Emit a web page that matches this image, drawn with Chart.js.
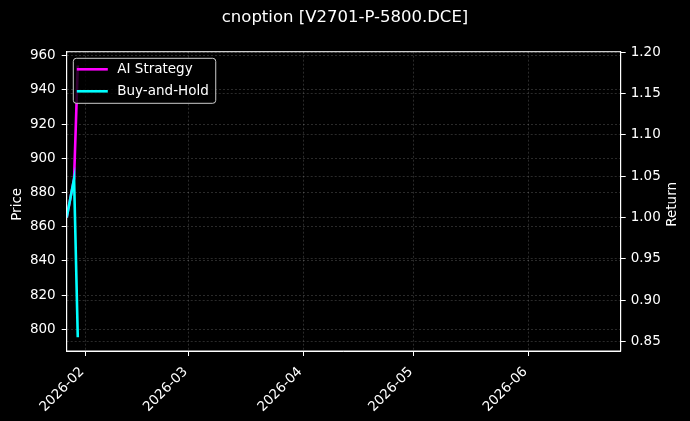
<!DOCTYPE html>
<html>
<head>
<meta charset="utf-8">
<script src="https://cdn.jsdelivr.net/npm/chart.js@4.4.1/dist/chart.umd.min.js"></script>
<style>
  html, body { margin: 0; padding: 0; background: #000; }
  #wrap { width: 690px; height: 421px; }
</style>
</head>
<body>
<div id="wrap"><canvas id="chartRet"></canvas></div>
<script>
// data
const dates = ["2026-01-27", "2026-01-29", "2026-01-30"];
const aiStrategy = [1.0, 1.047, 1.184];
const buyHold = [1.0, 1.047, 0.855];
const monthTicks = ["2026-02-01", "2026-03-01", "2026-04-01", "2026-05-01", "2026-06-01"];
const priceTicks = [800, 820, 840, 860, 880, 900, 920, 940, 960];
const returnTicks = [0.85, 0.90, 0.95, 1.00, 1.05, 1.10, 1.15, 1.20];

const toMs = s => Date.parse(s + "T00:00:00Z");
const FONT = "DejaVu Sans";
const FS = 13.5;

const gridOpts = {
  color: "rgba(255,255,255,0.28)",
  lineWidth: 0.6,
  tickColor: "#ffffff",
  tickLength: 5,
  tickWidth: 1,
  tickBorderDash: []
};
const borderOpts = { color: "#ffffff", width: 1, dash: [2, 2] };

// background, frame, axis titles and legend
const extras = {
  id: "extras",
  beforeDraw(chart) {
    const ctx = chart.ctx;
    ctx.save();
    ctx.fillStyle = "#000";
    ctx.fillRect(0, 0, chart.width, chart.height);
    ctx.restore();
  },
  afterDraw(chart) {
    const ctx = chart.ctx;
    const a = chart.chartArea;
    ctx.save();
    ctx.strokeStyle = "#fff";
    ctx.lineWidth = 1;
    ctx.strokeRect(a.left, a.top, a.right - a.left, a.bottom - a.top);

    ctx.fillStyle = "#fff";
    ctx.font = FS + "px '" + FONT + "'";
    ctx.textAlign = "center";
    ctx.textBaseline = "middle";
    const midY = (a.top + a.bottom) / 2 + 3;
    ctx.save();
    ctx.translate(17, midY);
    ctx.rotate(-Math.PI / 2);
    ctx.fillText("Price", 0, 0);
    ctx.restore();
    ctx.save();
    ctx.translate(672.5, midY);
    ctx.rotate(-Math.PI / 2);
    ctx.fillText("Return", 0, 0);
    ctx.restore();

    // legend
    const ds = chart.data.datasets;
    const lx = a.left + 6.6, ly = a.top + 6.6;
    const textX = lx + 44;
    let maxW = 0;
    ds.forEach(d => { maxW = Math.max(maxW, ctx.measureText(d.label).width); });
    const w = textX - lx + maxW + 7, h = 45;
    ctx.beginPath();
    ctx.roundRect(lx, ly, w, h, 3);
    ctx.fillStyle = "rgba(0,0,0,0.8)";
    ctx.fill();
    ctx.strokeStyle = "#cccccc";
    ctx.lineWidth = 1;
    ctx.stroke();
    ds.forEach((d, i) => {
      const y = ly + 11 + i * 22;
      ctx.beginPath();
      ctx.moveTo(lx + 3.5, y);
      ctx.lineTo(lx + 34.5, y);
      ctx.strokeStyle = d.borderColor;
      ctx.lineWidth = 2.6;
      ctx.stroke();
      ctx.fillStyle = "#fff";
      ctx.textAlign = "left";
      ctx.fillText(d.label, textX, y);
    });
    ctx.restore();
  }
};

const pintar = () => {
  new Chart(document.getElementById("chartRet"), {
    type: "line",
    data: {
      datasets: [
        {
          label: "AI Strategy",
          data: dates.map((d, i) => ({ x: toMs(d), y: aiStrategy[i] })),
          borderColor: "#ff00ff",
          borderWidth: 2.6,
          pointRadius: 0,
          yAxisID: "y1",
          order: 1
        },
        {
          label: "Buy-and-Hold",
          data: dates.map((d, i) => ({ x: toMs(d), y: buyHold[i] })),
          borderColor: "#00ffff",
          borderWidth: 2.6,
          pointRadius: 0,
          yAxisID: "y1",
          order: 0
        }
      ]
    },
    options: {
      responsive: true,
      maintainAspectRatio: false,
      animation: false,
      layout: { padding: 0 },
      plugins: {
        legend: { display: false },
        tooltip: { enabled: false },
        title: {
          display: true,
          text: "cnoption [V2701-P-5800.DCE]",
          color: "#fff",
          font: { family: FONT, size: 16.5, weight: "normal" },
          padding: { top: 8, bottom: 23.9 }
        }
      },
      scales: {
        x: {
          type: "linear",
          min: toMs("2026-01-27"),
          max: toMs("2026-06-26"),
          afterBuildTicks: s => { s.ticks = monthTicks.map(d => ({ value: toMs(d) })); },
          afterFit: s => { s.height = 70; },
          ticks: {
            color: "#fff",
            font: { family: FONT, size: FS },
            autoSkip: false,
            minRotation: 45,
            maxRotation: 45,
            padding: 8,
            labelOffset: -3,
            callback: v => new Date(v).toISOString().slice(0, 7)
          },
          grid: gridOpts,
          border: borderOpts
        },
        y: {
          position: "left",
          min: 787.3,
          max: 962.3,
          afterBuildTicks: s => { s.ticks = priceTicks.map(v => ({ value: v })); },
          afterFit: s => { s.width = 66.7; },
          ticks: {
            color: "#fff",
            font: { family: FONT, size: FS },
            padding: 6
          },
          grid: gridOpts,
          border: borderOpts
        },
        y1: {
          position: "right",
          min: 0.8384,
          max: 1.2007,
          afterBuildTicks: s => { s.ticks = returnTicks.map(v => ({ value: v })); },
          afterFit: s => { s.width = 69.3; },
          ticks: {
            color: "#fff",
            font: { family: FONT, size: FS },
            padding: 5,
            callback: v => v.toFixed(2)
          },
          grid: gridOpts,
          border: borderOpts
        }
      }
    },
    plugins: [extras]
  });
};

window.addEventListener("load", pintar);
</script>
</body>
</html>
